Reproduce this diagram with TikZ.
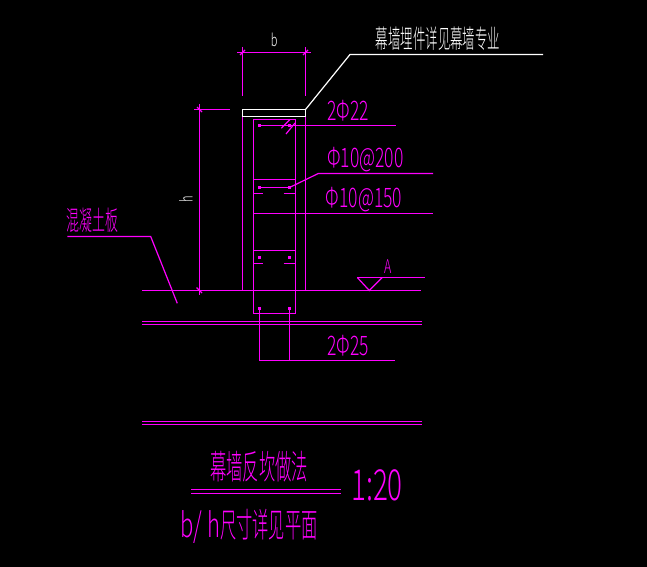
\documentclass[tikz,border=0pt]{standalone}
\usepackage{fontspec}
\newfontfamily\cadcjk{Noto Sans CJK SC Light}[FakeStretch=0.48]
\newfontfamily\cadnum{Noto Sans CJK SC Light}[FakeStretch=0.65]
\definecolor{cadm}{RGB}{255,0,255}
\tikzset{
  mline/.style={draw=cadm,line width=1.2bp},
  wline/.style={draw=white,line width=1.2bp},
  mtext/.style={text=cadm,inner sep=0pt},
  wtext/.style={text=white,inner sep=0pt},
  bardot/.style={draw=cadm,line width=0.8bp,fill=cadm,minimum size=2bp,inner sep=0pt}
}
\begin{document}
\begin{tikzpicture}[x=1bp,y=-1bp]
\fill[black] (0,0) rectangle (647,567);
\useasboundingbox (0,0) rectangle (647,567);
\begin{scope}
% dimensions
\draw[mline] (237,52.5) -- (311,52.5);
\draw[mline] (242.5,47) -- (242.5,96);
\draw[mline] (305.5,47) -- (305.5,96);
\draw[mline] (240,55) -- (245,50);
\draw[mline] (303,55) -- (308,50);
\draw[mline] (194,109.5) -- (230,109.5);
\draw[mline] (199.5,104) -- (199.5,295);
\draw[mline] (197,107) -- (202,112);
\draw[mline] (196.5,287.5) -- (202,293);
\node[wtext,font=\cadnum\fontsize{17}{17}\selectfont] (bLabel) at (274.3,40) {b};
\node[wtext,rotate=90,font=\cadnum\fontsize{17}{17}\selectfont] (hLabel) at (186,199.5) {h};
\end{scope}
\begin{scope}
% wall and beam
\draw[mline] (242.5,116.5) -- (242.5,290.5);
\draw[mline] (305.5,116.5) -- (305.5,290.5);
\draw[mline] (253.5,119.5) rectangle (295.5,313.5);
\foreach \y in {179.5,213.5,250.5} \draw[mline] (253.5,\y) -- (295.5,\y);
\foreach \y in {193.5,263.5} {
  \draw[mline] (253.5,\y) -- (263,\y);
  \draw[mline] (283.5,\y) -- (295.5,\y);
}
\draw[wline] (242.5,109.5) rectangle (305.5,116.5);
\end{scope}
\begin{scope}
% rebar
\foreach \n/\x/\y in {ta/259.5/125.5,tb/289.5/125.5,ma/259.5/187.5,mb/289.5/187.5,la/259.5/257.5,lb/289.5/257.5,ba/259.5/308.5,bb/289.5/308.5}
  \node[bardot] (\n) at (\x,\y) {};
\draw[mline] (ta) -- (tb);
\draw[mline] (ma) -- (mb);
\draw[mline] (281.3,128.3) -- (290,119.5);
\draw[mline] (286,134) -- (295,123);
\end{scope}
\begin{scope}
% floor slabs
\draw[mline] (142,290.5) -- (421,290.5);
\foreach \y in {321.5,324.5,421.5,424.5} \draw[mline] (142,\y) -- (421.5,\y);
\end{scope}
\begin{scope}
% leaders
\coordinate (barEnd) at (395.7,125.5);
\draw[mline] (tb) -- (barEnd);
\coordinate (stirA) at (318.3,173.5);
\coordinate (stirB) at (433,173.5);
\draw[mline] (mb) -- (stirA) -- (stirB);
\coordinate (stirC) at (433,213.5);
\draw[mline] (295.5,213.5) -- (stirC);
\coordinate (botA) at (259.5,360.5);
\coordinate (botB) at (289.5,360.5);
\coordinate (botC) at (395,360.5);
\draw[mline] (ba) -- (botA) -- (botC);
\draw[mline] (bb) -- (botB);
\draw[mline] (67.3,236.5) -- (150.7,236.5) -- (177.3,303.3);
\draw[wline] (305.5,109.5) -- (350,54.5) -- (543,54.5);
\draw[mline] (357.3,277.5) -- (369.3,290.5) -- (382.3,277.5);
\draw[mline] (357.3,277.5) -- (425,277.5);
\end{scope}
\begin{scope}
% labels
\node[wtext,font=\cadcjk\fontsize{26}{26}\selectfont] (noteText) at (438,38.5) {幕墙埋件详见幕墙专业};
\node[mtext,font=\cadnum\fontsize{27}{27}\selectfont] (barTop) at (348,111) {2Φ22};
\node[mtext,font=\cadnum\fontsize{27}{27}\selectfont] (barMid) at (365.5,160) {Φ10@200};
\node[mtext,font=\cadnum\fontsize{27}{27}\selectfont] (barLow) at (364,199.5) {Φ10@150};
\node[mtext,font=\cadnum\fontsize{27}{27}\selectfont] (barBot) at (348,345.7) {2Φ25};
\node[mtext,font=\cadnum\fontsize{19}{19}\selectfont] (levelA) at (388,267) {A};
\node[mtext,font=\cadcjk\fontsize{27}{27}\selectfont] (slabText) at (92.5,220) {混凝土板};
\node[mtext,font=\cadcjk\fontsize{34}{34}\selectfont] (titleText) at (259,466.5) {幕墙反坎做法};
\draw[mline] (191,489.5) -- (340.7,489.5);
\draw[mline] (191,493.5) -- (340.7,493.5);
\node[mtext,font=\cadnum\fontsize{43}{43}\selectfont] (scaleText) at (377,485) {1:20};
\node[mtext,font=\cadcjk\fontsize{34}{34}\selectfont] (sizeText) at (249,526) {{\cadnum\fontsize{34}{34}\selectfont b/ h}尺寸详见平面};
\end{scope}
\end{tikzpicture}
\end{document}
